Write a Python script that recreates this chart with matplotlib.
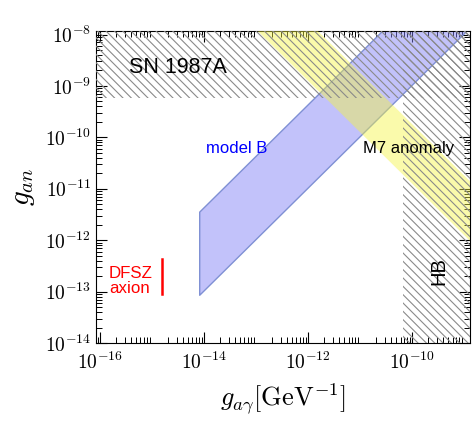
import matplotlib
matplotlib.use("Agg")
import matplotlib.pyplot as plt

plt.rcParams['mathtext.fontset'] = 'cm'
plt.rcParams['hatch.color'] = '#8a8a8a'
plt.rcParams['hatch.linewidth'] = 0.8

# ---- data ----
xlim = [8.4e-17, 1.3e-9]
ylim = [1.0e-14, 1.17e-8]

sn_x = [1e-17, 1e-8]
sn_lo = [5.9e-10, 5.9e-10]
sn_hi = [1e-7, 1e-7]

hb_x = [6.6e-11, 1e-8]
hb_lo = [1e-15, 1e-15]
hb_hi = [1e-7, 1e-7]

modelB_x = [8.1e-15, 1.3e-9]
modelB_lo = [8.7e-14, 1.39e-8]
modelB_hi = [3.6e-12, 5.8e-7]

m7_x = [1e-14, 1.3e-9]
m7_lo = [1.26e-7, 9.7e-13]
m7_hi = [1.8e-6, 1.4e-11]

dfsz_x = [1.58e-15, 1.58e-15]
dfsz_y = [9.1e-14, 4.4e-13]

xticks = [1e-16, 1e-14, 1e-12, 1e-10]
xticklabels = [r'$10^{-16}$', r'$10^{-14}$', r'$10^{-12}$', r'$10^{-10}$']
yticks = [1e-14, 1e-13, 1e-12, 1e-11, 1e-10, 1e-9, 1e-8]
yticklabels = [r'$10^{-14}$', r'$10^{-13}$', r'$10^{-12}$', r'$10^{-11}$',
               r'$10^{-10}$', r'$10^{-9}$', r'$10^{-8}$']

fig = plt.figure(figsize=(4.74, 4.22), dpi=100)
ax = fig.add_axes([0.2025, 0.187, 0.7891, 0.7395])
ax.set_xscale('log')
ax.set_yscale('log')

# model B band
ax.fill_between(modelB_x, modelB_lo, modelB_hi, facecolor=(0.5, 0.5, 0.96, 0.48),
                edgecolor='#7f90d4', linewidth=1.0, zorder=2)
# M7 anomaly band
ax.fill_between(m7_x, m7_lo, m7_hi, facecolor=(0.96, 0.96, 0.25, 0.44),
                edgecolor='none', linewidth=0, zorder=3)
# SN 1987A hatch
ax.fill_between(sn_x, sn_lo, sn_hi, facecolor='none', edgecolor='#8a8a8a',
                hatch='\\\\\\\\', linewidth=0, zorder=4)
# HB hatch
ax.fill_between(hb_x, hb_lo, hb_hi, facecolor='none', edgecolor='#8a8a8a',
                hatch='\\\\\\\\', linewidth=0, zorder=4)
# DFSZ line
ax.plot(dfsz_x, dfsz_y, color='red', linewidth=1.8, zorder=5)

ax.set_xlim(xlim)
ax.set_ylim(ylim)

sans = ['Liberation Sans', 'DejaVu Sans']
ax.text(3.2e-15, 2.3e-9, 'SN 1987A', fontsize=15.5, family=sans, ha='center', va='center', zorder=6)
ax.text(4.2e-14, 6.0e-11, 'model B', fontsize=12, family=sans, color='blue', ha='center', va='center', zorder=6)
ax.text(8.4e-11, 6.0e-11, 'M7 anomaly', fontsize=12, family=sans, ha='center', va='center', zorder=6)
ax.text(3.3e-10, 2.5e-13, 'HB', fontsize=14.5, family=sans, rotation=90, ha='center', va='center', zorder=6)
ax.text(3.8e-16, 1.6e-13, 'DFSZ\naxion', fontsize=12.2, family=sans, color='red',
        ha='center', va='center', linespacing=1.05, zorder=6)

ax.set_xticks(xticks)
ax.set_xticklabels(xticklabels)
ax.set_yticks(yticks)
ax.set_yticklabels(yticklabels)
ax.tick_params(which='both', direction='in', top=True, right=True, labelsize=14)
ax.tick_params(which='major', length=8, width=0.8)
ax.tick_params(which='minor', length=4, width=0.7)
ax.xaxis.set_minor_locator(matplotlib.ticker.LogLocator(base=10, subs=range(2, 10), numticks=30))
ax.yaxis.set_minor_locator(matplotlib.ticker.LogLocator(base=10, subs=range(2, 10), numticks=30))
ax.xaxis.set_minor_formatter(matplotlib.ticker.NullFormatter())
ax.yaxis.set_minor_formatter(matplotlib.ticker.NullFormatter())
ax.tick_params(axis='x', pad=6)

ax.set_xlabel(r'$g_{a\gamma}[\mathrm{GeV}^{-1}]$', fontsize=19, labelpad=6)
ax.set_ylabel(r'$g_{an}$', fontsize=21, labelpad=6)

fig.savefig('out.png', dpi=100)
